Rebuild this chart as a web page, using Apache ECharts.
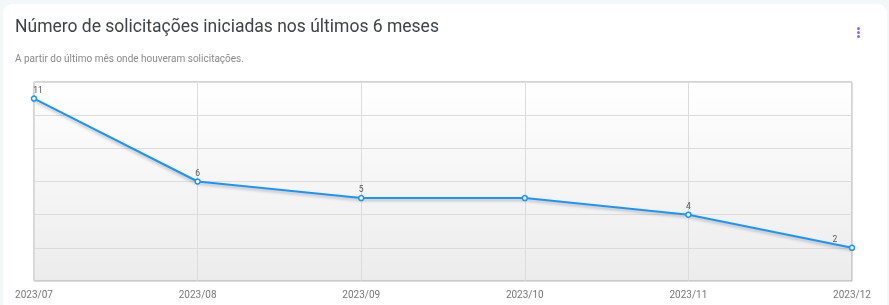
<!DOCTYPE html>
<html>
<head>
<meta charset="utf-8">
<script src="https://cdn.jsdelivr.net/npm/echarts@6/dist/echarts.min.js"></script>
<style>
  html, body { margin: 0; padding: 0; background: #f2f7f7; }
  #card { position: absolute; left: 3px; top: 4px; width: 884px; height: 320px; background: #ffffff; border-radius: 9px; }
  #chart { position: absolute; left: 0; top: 0; width: 889px; height: 305px; }
</style>
</head>
<body>
<div id="card"></div>
<div id="chart"></div>
<script>
const titleText = 'Número de solicitações iniciadas nos últimos 6 meses';
const subtitleText = 'A partir do último mês onde houveram solicitações.';
const categories = ['2023/07', '2023/08', '2023/09', '2023/10', '2023/11', '2023/12'];
const requests = [11, 6, 5, 5, 4, 2];
const yMin = 0, yMax = 12, yStep = 2;

const chart = echarts.init(document.getElementById('chart'), null, { renderer: 'canvas' });

// 2023/10 shows no value label in the reference
const seriesData = requests.map((v, i) => {
  const item = { value: v };
  if (i === 0) item.label = { offset: [4, 0] };
  if (i === 3) item.label = { show: false };
  if (i === requests.length - 1) item.label = { offset: [-17, 0] };
  return item;
});

chart.setOption({
  backgroundColor: 'transparent',
  animation: false,
  title: {
    text: titleText,
    subtext: subtitleText,
    left: 10,
    top: 14,
    itemGap: 17,
    textStyle: { fontFamily: 'Roboto', fontSize: 17.5, fontWeight: 'normal', color: '#3f4246' },
    subtextStyle: { fontFamily: 'Roboto', fontSize: 10, color: '#8a8a8a' }
  },
  graphic: [
    { type: 'circle', left: 857, top: 27, shape: { r: 1.5 }, style: { fill: '#7f6cf0' } },
    { type: 'circle', left: 857, top: 31, shape: { r: 1.5 }, style: { fill: '#7f6cf0' } },
    { type: 'circle', left: 857, top: 35, shape: { r: 1.5 }, style: { fill: '#7f6cf0' } }
  ],
  grid: {
    left: 34, right: 37, top: 82, bottom: 24,
    show: true,
    borderColor: '#aaaaaa',
    borderWidth: 1,
    backgroundColor: new echarts.graphic.LinearGradient(0, 0, 0, 1, [
      { offset: 0, color: '#ffffff' },
      { offset: 1, color: '#ececec' }
    ])
  },
  xAxis: {
    type: 'category',
    data: categories,
    boundaryGap: false,
    axisLine: { show: false },
    axisTick: { show: false },
    axisLabel: { color: '#777', fontFamily: 'Roboto', fontSize: 10, margin: 9, showMinLabel: true, showMaxLabel: true },
    splitLine: { show: true, lineStyle: { color: '#dcdcdc', width: 1 } }
  },
  yAxis: {
    type: 'value',
    min: yMin, max: yMax, interval: yStep,
    axisLine: { show: false },
    axisTick: { show: false },
    axisLabel: { show: false },
    splitLine: { show: true, lineStyle: { color: '#dcdcdc', width: 1 } }
  },
  series: [{
    type: 'line',
    data: seriesData,
    symbol: 'circle',
    symbolSize: 5,
    itemStyle: { color: '#ffffff', borderColor: '#1a94ff', borderWidth: 1.5 },
    lineStyle: { color: '#1a94ff', width: 2, shadowColor: 'rgba(0,0,0,0.25)', shadowBlur: 3, shadowOffsetY: 2 },
    label: { show: true, position: 'top', distance: 0, fontFamily: 'Roboto', fontSize: 8.5, color: '#555' }
  }]
});
</script>
</body>
</html>
